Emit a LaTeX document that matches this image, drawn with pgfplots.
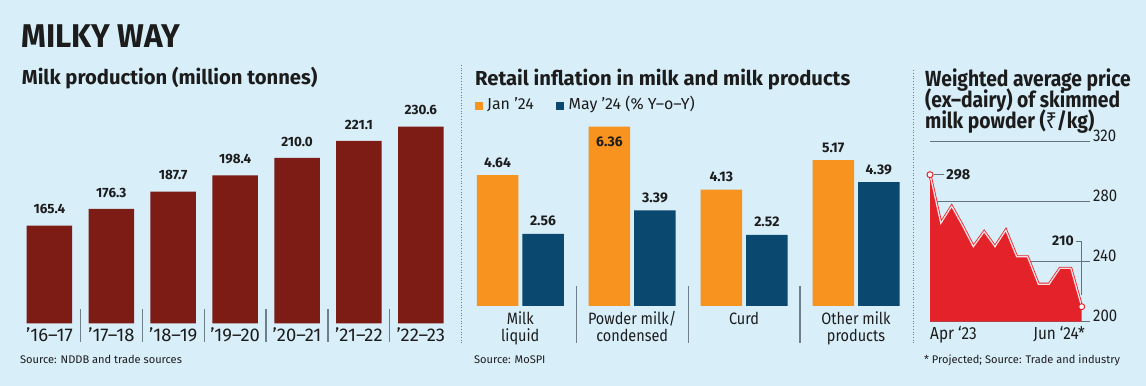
\documentclass[border=0pt]{standalone}
\usepackage{pgfplots}
\pgfplotsset{compat=1.18}
\usepackage{fontspec}
\setmainfont{Fira Sans}
\newfontfamily\cond{Fira Sans}[FakeStretch=0.88]
\newfontfamily\titlefont{Fira Sans}[FakeStretch=0.96]
\newfontfamily\rupeefont{Noto Sans}[FakeStretch=0.88]
\definecolor{bg}{HTML}{D8EEF9}
\definecolor{barred}{HTML}{7D1C14}
\definecolor{orangec}{HTML}{F7931E}
\definecolor{navyc}{HTML}{0A4870}
\definecolor{areared}{HTML}{E3222A}
\definecolor{txt}{HTML}{1C1C1C}
\definecolor{gridc}{HTML}{63737D}
\definecolor{sepc}{HTML}{6F7F89}
\begin{document}
\begin{tikzpicture}
\useasboundingbox (0bp,0bp) rectangle (1146bp,386bp);
\fill[bg] (0bp,0bp) rectangle (1146bp,386bp);
% headings
\node[anchor=base west, inner sep=0, text=txt, font=\titlefont\fontsize{33}{33}\selectfont\bfseries] at (21bp,338bp) {MILKY WAY};
\node[anchor=base west, inner sep=0, text=txt, font=\fontsize{20.3}{20.3}\selectfont\bfseries] at (21.7bp,301bp) {Milk production (million tonnes)};
\node[anchor=base west, inner sep=0, text=txt, font=\fontsize{20.3}{20.3}\selectfont\bfseries] at (475bp,300bp) {Retail inflation in milk and milk products};
\node[anchor=base west, inner sep=0, text=txt, font=\cond\fontsize{22}{22}\selectfont\bfseries] at (925bp,299.3bp) {Weighted average price};
\node[anchor=base west, inner sep=0, text=txt, font=\cond\fontsize{22}{22}\selectfont\bfseries] at (925bp,278.3bp) {(ex–dairy) of skimmed};
\node[anchor=base west, inner sep=0, text=txt, font=\cond\fontsize{22}{22}\selectfont\bfseries] at (925bp,257.7bp) {milk powder ({\rupeefont\bfseries ₹}/kg)};
% legend
\fill[orangec] (475bp,276bp) rectangle (483.3bp,284.3bp);
\node[anchor=base west, inner sep=0, text=txt, font=\fontsize{16}{16}\selectfont] at (487bp,276bp) {Jan ’24};
\fill[navyc] (556.3bp,276bp) rectangle (564.3bp,284.3bp);
\node[anchor=base west, inner sep=0, text=txt, font=\fontsize{16}{16}\selectfont] at (568.5bp,276bp) {May ’24 (\% Y–o–Y)};
% sources
\node[anchor=base west, inner sep=0, text=txt, font=\fontsize{11.1}{11.1}\selectfont] at (20bp,22.7bp) {Source: NDDB and trade sources};
\node[anchor=base west, inner sep=0, text=txt, font=\fontsize{11.1}{11.1}\selectfont] at (474bp,22.7bp) {Source: MoSPI};
\node[anchor=base west, inner sep=0, text=txt, font=\fontsize{11.1}{11.1}\selectfont] at (924bp,22.7bp) {* Projected; Source: Trade and industry};
% dividers
\draw[sepc, line width=0.7bp, dotted] (461bp,43bp) -- (461bp,321bp);
\draw[sepc, line width=0.7bp, dotted] (913bp,43bp) -- (913bp,316bp);

% ---------- left: milk production ----------
\begin{axis}[at={(18.5bp,62.7bp)}, anchor=south west, scale only axis,
  width=433.3bp, height=226.2bp,
  xmin=-0.5, xmax=6.5, ymin=101, ymax=250,
  axis line style={draw=none}, major tick length=0, ytick=\empty,
  xtick={0,...,6},
  xticklabels={’16–17,’17–18,’18–19,’19–20,’20–21,’21–22,’22–23},
  xticklabel style={anchor=base, yshift=-18.4bp, inner sep=0, text=txt, font=\fontsize{18.5}{18.5}\selectfont},
  ybar, bar width=45.5bp,
  nodes near coords, point meta=explicit symbolic,
  every node near coord/.append style={anchor=base, yshift=11.7bp, inner sep=0, text=txt, font=\fontsize{13.5}{13.5}\selectfont\bfseries}]
\addplot[fill=barred, draw=none] coordinates {(0,165.4)[165.4] (1,176.3)[176.3] (2,187.7)[187.7] (3,198.4)[198.4] (4,210.0)[210.0] (5,221.1)[221.1] (6,230.6)[230.6]};
\coordinate (L1) at (axis cs:0.5,101);
\coordinate (L2) at (axis cs:1.5,101);
\coordinate (L3) at (axis cs:2.5,101);
\coordinate (L4) at (axis cs:3.5,101);
\coordinate (L5) at (axis cs:4.5,101);
\coordinate (L6) at (axis cs:5.5,101);
\end{axis}
\foreach \c in {L1,L2,L3,L4,L5,L6}{\draw[sepc, line width=1.2bp] (\c) ++(0bp,14bp) -- ++(0bp,-32.4bp);}

% ---------- middle: retail inflation ----------
\begin{axis}[at={(464.35bp,80bp)}, anchor=south west, scale only axis,
  width=447.6bp, height=211.5bp,
  xmin=-0.5, xmax=3.5, ymin=0, ymax=7.5,
  axis line style={draw=none}, major tick length=0, ytick=\empty,
  xtick={0,1,2,3},
  xticklabels={{Milk\\liquid},{Powder milk/\\condensed},{Curd},{Other milk\\products}},
  xticklabel style={align=center, anchor=north, yshift=-5.5bp, inner sep=0, text=txt, font=\cond\fontsize{16.5}{17}\selectfont},
  ybar=4bp, bar width=41.5bp,
  nodes near coords, point meta=explicit symbolic,
  every node near coord/.append style={anchor=base, yshift=8bp, inner sep=0, text=txt, font=\fontsize{14}{14}\selectfont\bfseries}]
\addplot[fill=orangec, draw=none] coordinates {(0,4.64)[4.64] (1,6.36)[] (2,4.13)[4.13] (3,5.17)[5.17]};
\addplot[fill=navyc, draw=none] coordinates {(0,2.56)[2.56] (1,3.39)[3.39] (2,2.52)[2.52] (3,4.39)[4.39]};
\node[anchor=base, inner sep=0, xshift=-22.75bp, yshift=-19.5bp, text=txt, font=\fontsize{14}{14}\selectfont\bfseries] at (axis cs:1,6.36) {6.36};
\coordinate (M1) at (axis cs:0.5,0);
\coordinate (M2) at (axis cs:1.5,0);
\coordinate (M3) at (axis cs:2.5,0);
\end{axis}
\foreach \c in {M1,M2,M3}{\draw[sepc, line width=1.2bp] (\c) ++(0bp,20bp) -- ++(0bp,-57bp);}

% ---------- right: SMP price ----------
\begin{axis}[at={(930bp,64.3bp)}, anchor=south west, scale only axis,
  width=160bp, height=180bp,
  xmin=0, xmax=14.77, ymin=200, ymax=320, clip=false,
  axis line style={draw=none}, major tick length=0,
  xtick=\empty, ytick={200,240,280,320}, yticklabel pos=right,
  /pgf/number format/assume math mode=true,
  yticklabel style={anchor=base west, xshift=3bp, inner sep=0, text=txt, font=\cond\fontsize{17}{17}\selectfont},
  ymajorgrids, grid style={gridc, line width=1bp}]
\addplot[fill=areared, draw=none] coordinates {(0,200) (0,298) (1,265.6) (2,277) (3,264) (4,250) (5,260) (6,250) (7,261) (8,243.3) (9,243.3) (10,225) (11,225) (12,235.6) (13,235.6) (14,210) (14,200)} -- cycle;
\addplot[draw=areared, line width=0.8bp, double=white!85!areared, double distance=1.3bp] coordinates {(0,298) (1,265.6) (2,277) (3,264) (4,250) (5,260) (6,250) (7,261) (8,243.3) (9,243.3) (10,225) (11,225) (12,235.6) (13,235.6) (14,210)};
\addplot[only marks, mark=*, mark size=3bp, mark options={fill=white, draw=areared, line width=1bp}] coordinates {(0,298) (14,210)};
\coordinate (P0) at (axis cs:0,298);
\coordinate (P14) at (axis cs:14,253.8);
\coordinate (B14) at (axis cs:14,218);
\coordinate (B0) at (axis cs:0,200);
\coordinate (E14) at (axis cs:14,200);
\end{axis}
\draw[gridc, line width=0.8bp] (B14) -- (P14) -- ++(-6bp,0bp)
  node[anchor=east, inner sep=1.5bp, text=txt, font=\fontsize{14}{14}\selectfont\bfseries] {210};
\draw[gridc, line width=0.8bp] (P0) ++(3.5bp,0bp) -- ++(10.5bp,0bp)
  node[anchor=west, inner sep=2bp, text=txt, font=\fontsize{14.5}{14.5}\selectfont\bfseries] {298};
\node[anchor=base west, inner sep=0, text=txt, font=\cond\fontsize{17.5}{17.5}\selectfont] at ([yshift=-18.3bp]B0) {Apr ‘23};
\node[anchor=base east, inner sep=0, text=txt, font=\cond\fontsize{17.5}{17.5}\selectfont] at ([yshift=-18.3bp,xshift=3.5bp]E14) {Jun ‘24*};
\end{tikzpicture}
\end{document}
